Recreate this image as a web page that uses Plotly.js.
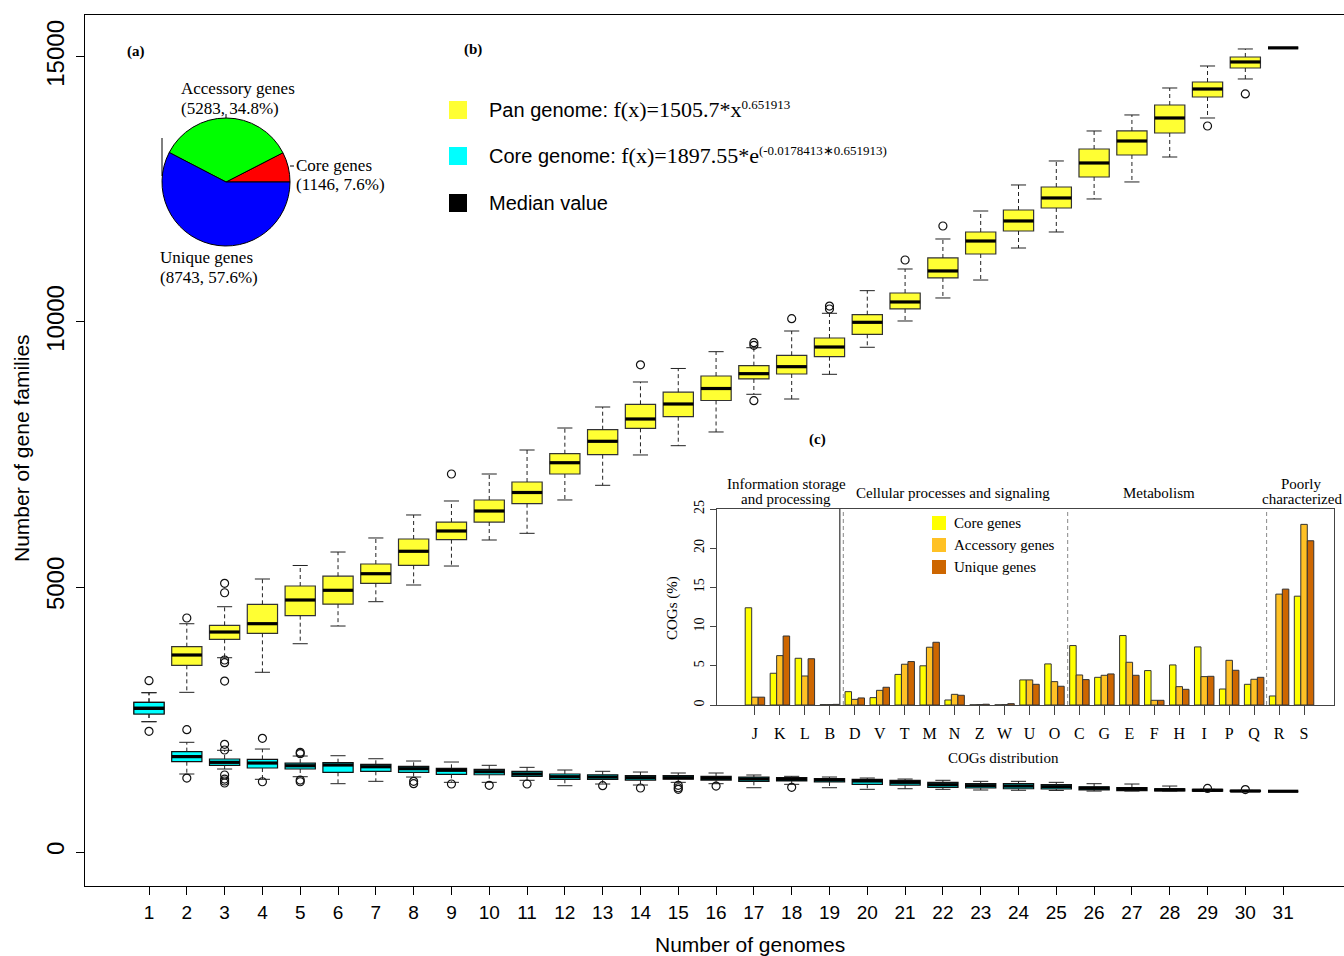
<!DOCTYPE html>
<html><head><meta charset="utf-8">
<script src="https://cdn.plot.ly/plotly-3.0.1.min.js"></script>
<style>html,body{margin:0;padding:0;background:#fff}#chart{width:1344px;height:956px}</style>
</head><body><div id="chart"></div>
<script>
// ---------------- data ----------------
const genomes = [1,2,3,4,5,6,7,8,9,10,11,12,13,14,15,16,17,18,19,20,21,22,23,24,25,26,27,28,29,30,31];

const panLow    = [2459,3013,3666,3391,3930,4264,4723,5038,5396,5887,6013,6642,6919,7491,7666,7925,8636,8547,9013,9523,10019,10453,10792,11396,11698,12321,12642,13113,13849,14585,15172];
const panQ1     = [2604,3522,4013,4126,4459,4676,5070,5409,5893,6226,6572,7132,7496,7994,8213,8519,8925,9019,9345,9768,10246,10831,11283,11717,12151,12736,13151,13566,14245,14792,15172];
const panMedian = [2711,3717,4151,4308,4755,4938,5251,5674,6057,6434,6783,7345,7749,8170,8453,8745,9025,9157,9528,9994,10378,10963,11528,11906,12340,13000,13415,13849,14396,14906,15172];
const panQ3     = [2825,3874,4277,4674,5019,5204,5434,5906,6226,6642,6981,7515,7968,8447,8676,8981,9176,9372,9698,10138,10547,11208,11698,12113,12547,13264,13604,14094,14528,15000,15172];
const panHigh   = [3006,4307,4628,5151,5406,5660,5925,6359,6623,7132,7585,8000,8396,8868,9123,9440,9515,9830,10164,10591,11000,11566,12094,12585,13038,13604,13906,14415,14830,15151,15172];
const panOutlierX = [2,3,3,3,3,3,9,14,17,17,17,18,19,19,21,22,29,30];
const panOutlierY = [4415,5070,4892,3623,3572,3226,7132,9192,9610,9560,8515,10062,10300,10245,11170,11811,13698,14302];

const coreLow    = [2459,1472,1566,1372,1421,1289,1334,1415,1315,1315,1353,1251,1283,1264,1315,1289,1213,1277,1213,1183,1194,1183,1170,1165,1162,1150,1150,1150,1150,1146,1146];
const coreQ1     = [2604,1704,1636,1585,1566,1504,1523,1504,1466,1458,1428,1372,1372,1358,1377,1358,1334,1340,1321,1277,1264,1221,1208,1194,1189,1172,1160,1155,1150,1146,1146];
const coreMedian = [2711,1800,1692,1679,1628,1642,1609,1572,1542,1515,1472,1421,1415,1402,1402,1391,1377,1372,1358,1340,1315,1270,1251,1245,1232,1205,1192,1175,1165,1150,1146];
const coreQ3     = [2825,1894,1755,1749,1679,1685,1655,1617,1579,1560,1523,1472,1458,1440,1440,1428,1415,1402,1383,1372,1353,1315,1289,1289,1270,1230,1215,1192,1183,1162,1146];
const coreHigh   = [3006,2070,1919,1943,1811,1817,1760,1717,1698,1636,1598,1547,1523,1509,1491,1491,1453,1428,1415,1396,1377,1353,1334,1334,1315,1289,1283,1245,1183,1162,1146];
const coreOutlierX = [1,1,2,2,3,3,3,3,3,3,4,4,5,5,5,5,8,8,9,10,11,13,14,15,15,15,16,18,29,30];
const coreOutlierY = [3232,2277,2308,1396,2032,1925,1453,1377,1340,1302,2145,1326,1881,1855,1358,1326,1334,1289,1283,1258,1283,1251,1208,1258,1213,1183,1245,1221,1200,1178];

const pieLabels = ['Core genes','Accessory genes','Unique genes'];
const pieValues = [1146, 5283, 8743];
const piePercents = ['7.6%','34.8%','57.6%'];

const cogCategories = ['J','K','L','B','D','V','T','M','N','Z','W','U','O','C','G','E','F','H','I','P','Q','R','S'];
const cogCore      = [12.4,4.05,5.96,0.05,1.7,0.94,3.9,5.0,0.64,0.02,0.02,3.2,5.24,7.58,3.53,8.86,4.39,5.11,7.41,2.04,2.64,1.15,13.88];
const cogAccessory = [1.0,6.3,3.7,0.05,0.72,1.87,5.2,7.37,1.36,0.05,0.05,3.2,2.98,3.83,3.79,5.45,0.6,2.34,3.62,5.7,3.28,14.14,23.04];
const cogUnique    = [1.0,8.8,5.9,0.08,0.9,2.26,5.54,8.0,1.24,0.1,0.17,2.64,2.39,3.24,3.96,3.79,0.6,2.0,3.66,4.43,3.53,14.78,20.95];
const cogGroupNames = ['Information storage|and processing','Cellular processes and signaling','Metabolism','Poorly|characterized'];
const cogGroupFirst = ['J','D','C','R'];
const cogGroupLast  = ['B','O','Q','S'];

const mainYTicks = [0, 5000, 10000, 15000];
const cogYTicks = [0, 5, 10, 15, 20, 25];

// ---------------- helpers ----------------
const W = 1344, H = 956, ML = 85, MT = 15, MR = 0, MB = 70;
const PW = W - ML - MR, PH = H - MT - MB;
const px = x => (x - ML) / PW;
const py = y => (H - MB - y) / PH;
const SANS = 'Liberation Sans, Arial, sans-serif';
const SERIF = 'Liberation Serif, Times New Roman, serif';

function segments(xs, ya, yb, dxa, dxb) {
  const X = [], Y = [];
  xs.forEach((g, i) => { X.push(g + dxa, g + dxb, null); Y.push(ya[i], yb[i], null); });
  return {X, Y};
}

function boxSet(q1, med, q3, lo, hi, fill, edge) {
  const traces = [];
  const wU = segments(genomes, q3, hi, 0, 0);
  const wL = segments(genomes, q1, lo, 0, 0);
  traces.push({type:'scatter', mode:'lines', x:wU.X.concat(wL.X), y:wU.Y.concat(wL.Y),
    line:{color:'#222', width:1, dash:'4px,3px'}, hoverinfo:'skip', showlegend:false});
  const cU = segments(genomes, hi, hi, -0.2, 0.2);
  const cL = segments(genomes, lo, lo, -0.2, 0.2);
  traces.push({type:'scatter', mode:'lines', x:cU.X.concat(cL.X), y:cU.Y.concat(cL.Y),
    line:{color:'#222', width:1}, hoverinfo:'skip', showlegend:false});
  traces.push({type:'box', orientation:'v', x:genomes, q1:q1, median:med, q3:q3,
    lowerfence:q1, upperfence:q3, width:0.8, whiskerwidth:0, boxpoints:false,
    fillcolor:fill, line:{color:edge, width:1.2}, hoverinfo:'skip', showlegend:false});
  const m = segments(genomes, med, med, -0.4, 0.4);
  traces.push({type:'scatter', mode:'lines', x:m.X, y:m.Y, line:{color:'#000', width:3.2},
    hoverinfo:'skip', showlegend:false});
  return traces;
}

const traces = [];
boxSet(panQ1, panMedian, panQ3, panLow, panHigh, '#FFFF33', '#333').forEach(t => traces.push(t));
boxSet(coreQ1, coreMedian, coreQ3, coreLow, coreHigh, '#00FFFF', '#111').forEach(t => traces.push(t));
traces.push({type:'scatter', mode:'markers', x:panOutlierX.concat(coreOutlierX), y:panOutlierY.concat(coreOutlierY),
  marker:{symbol:'circle-open', size:8, color:'#111', line:{width:1.2}}, hoverinfo:'skip', showlegend:false});

const pieTotal = pieValues.reduce((a, b) => a + b, 0);
traces.push({type:'pie', values:pieValues, labels:pieLabels, sort:false, direction:'counterclockwise',
  rotation: 90 - 360 * pieValues[0] / pieTotal,
  marker:{colors:['#FF0000','#00FF00','#0000FF'], line:{color:'#000', width:1}},
  textinfo:'none', hoverinfo:'skip', showlegend:false,
  domain:{x:[px(162), px(290)], y:[py(246), py(118)]}});

const cogColors = ['#FFFF00', '#FFC125', '#CD6600'];
[['Core genes', cogCore], ['Accessory genes', cogAccessory], ['Unique genes', cogUnique]].forEach((s, i) => {
  traces.push({type:'bar', x:cogCategories, y:s[1], name:s[0], xaxis:'x2', yaxis:'y2',
    marker:{color:cogColors[i], line:{color:'#333', width:1}}, hoverinfo:'skip', showlegend:false});
});

// ---------------- layout ----------------
const ann = [];
const shapes = [];
function txt(x, y, text, size, family, opts) {
  ann.push(Object.assign({xref:'paper', yref:'paper', x:px(x), y:py(y), text:text, showarrow:false,
    font:{size:size, family:family, color:'#000'}, xanchor:'center', yanchor:'middle'}, opts || {}));
}
txt(136, 52, '<b>(a)</b>', 15, SERIF);
txt(473, 49, '<b>(b)</b>', 15, SERIF);
txt(818, 440, '<b>(c)</b>', 15, SERIF);

// pie labels
txt(179, 88, pieLabels[1], 17, SERIF, {xanchor:'left'});
txt(179, 108, '(' + pieValues[1] + ', ' + piePercents[1] + ')', 17, SERIF, {xanchor:'left'});
txt(294, 165, pieLabels[0], 17, SERIF, {xanchor:'left'});
txt(294, 185, '(' + pieValues[0] + ', ' + piePercents[0] + ')', 17, SERIF, {xanchor:'left'});
txt(158, 257, pieLabels[2], 17, SERIF, {xanchor:'left'});
txt(158, 277, '(' + pieValues[2] + ', ' + piePercents[2] + ')', 17, SERIF, {xanchor:'left'});
// small label leader lines of the pie
shapes.push({type:'line', xref:'paper', yref:'paper', x0:px(226), x1:px(226), y0:py(118), y1:py(114), line:{color:'#000', width:1}});
shapes.push({type:'line', xref:'paper', yref:'paper', x0:px(290), x1:px(294), y0:py(166), y1:py(166), line:{color:'#000', width:1}});
shapes.push({type:'line', xref:'paper', yref:'paper', x0:px(162), x1:px(162), y0:py(176), y1:py(138), line:{color:'#000', width:1}});

// main legend
function sq(x0, y0, x1, y1, color) {
  shapes.push({type:'rect', xref:'paper', yref:'paper', x0:px(x0), x1:px(x1), y0:py(y1), y1:py(y0),
    fillcolor:color, line:{width:0}});
}
sq(449, 101, 467, 119, '#FFFF33');
sq(449, 147, 467, 165, '#00FFFF');
sq(449, 194, 467, 212, '#000000');
const serifSpan = t => '<span style="font-family:Liberation Serif;font-size:22px">' + t + '</span>';
const supSpan = t => '<sup><span style="font-family:Liberation Serif;font-size:13px">' + t + '</span></sup>';
txt(487, 110, 'Pan genome: ' + serifSpan('f(x)=1505.7*x') + supSpan('0.651913'), 20, SANS, {xanchor:'left'});
txt(487, 156, 'Core genome: ' + serifSpan('f(x)=1897.55*e') + supSpan('(-0.0178413\u22170.651913)'), 20, SANS, {xanchor:'left'});
txt(487, 203, 'Median value', 20, SANS, {xanchor:'left'});

// main axis titles
txt(21, 448, 'Number of gene families', 21, SANS, {textangle:-90});
txt(750, 944, 'Number of genomes', 21, SANS);

// inset: group separators and headers
const idx = c => cogCategories.indexOf(c);
shapes.push({type:'line', xref:'x2', yref:'y2', x0:idx('D') - 0.6, x1:idx('D') - 0.6, y0:0, y1:25,
  line:{color:'#444', width:1.3}});
[idx('D') - 0.46, idx('C') - 0.47, idx('R') - 0.5].forEach(v => {
  shapes.push({type:'line', xref:'x2', yref:'y2', x0:v, x1:v, y0:0, y1:25,
    line:{color:'#888', width:1, dash:'4px,3px'}});
});
const headerShift = [-0.25, -0.05, -0.3, 0.4];
cogGroupNames.forEach((name, i) => {
  const center = (idx(cogGroupFirst[i]) + idx(cogGroupLast[i])) / 2 + headerShift[i];
  const lines = name.split('|');
  const ys = lines.length === 2 ? [484, 499] : [493];
  lines.forEach((ln, k) => {
    ann.push({xref:'x2', yref:'paper', x:center, y:py(ys[k]), text:ln,
      showarrow:false, font:{size:15, family:SERIF, color:'#000'}, xanchor:'center', yanchor:'middle'});
  });
});
// inset legend
const legNames = ['Core genes','Accessory genes','Unique genes'];
[523, 545, 567].forEach((yc, i) => {
  sq(932, yc - 7, 946, yc + 7, cogColors[i]);
  txt(952, yc, legNames[i], 15, SERIF, {xanchor:'left'});
});
txt(672, 608, 'COGs (%)', 15, SERIF, {textangle:-90});
txt(1003, 758, 'COGs distribution', 15, SERIF);

const layout = {
  width: W, height: H,
  margin:{l:ML, r:MR, t:MT, b:MB, pad:0},
  paper_bgcolor:'#fff', plot_bgcolor:'#fff',
  font:{family:SANS, color:'#000'},
  showlegend:false,
  barmode:'group', bargap:0.22, bargroupgap:0,
  xaxis:{domain:[0,1], range:[-0.693, 32.61], tickvals:genomes, ticks:'outside', ticklen:8,
    tickcolor:'#000', showline:true, linecolor:'#000', linewidth:1, mirror:true,
    showgrid:false, zeroline:false, tickfont:{family:SANS, size:19}, ticklabelstandoff:1},
  yaxis:{domain:[0,1], range:[-641, 15792], tickvals:mainYTicks, ticktext:mainYTicks.map(String),
    ticks:'outside', ticklen:8,
    tickcolor:'#000', showline:true, linecolor:'#000', linewidth:1, showgrid:false, zeroline:false,
    tickangle:-90, tickfont:{family:SANS, size:24}, ticklabelstandoff:2},
  xaxis2:{domain:[px(717), px(1334)], anchor:'y2', type:'category', range:[-1.52, 23.2],
    ticks:'outside', ticklen:9, tickcolor:'#444', showline:true, linecolor:'#444', mirror:true,
    showgrid:false, zeroline:false, tickfont:{family:SERIF, size:16}, ticklabelstandoff:5},
  yaxis2:{domain:[py(705), py(509)], anchor:'x2', range:[0, 25], tickvals:cogYTicks,
    ticktext:cogYTicks.map(String),
    ticks:'outside', ticklen:6, tickcolor:'#444', showline:true, linecolor:'#444', mirror:true,
    showgrid:false, zeroline:false, tickangle:-90, tickfont:{family:SERIF, size:14}},
  annotations: ann,
  shapes: shapes
};

Plotly.newPlot('chart', traces, layout, {staticPlot:true, displayModeBar:false});
</script>
</body></html>
